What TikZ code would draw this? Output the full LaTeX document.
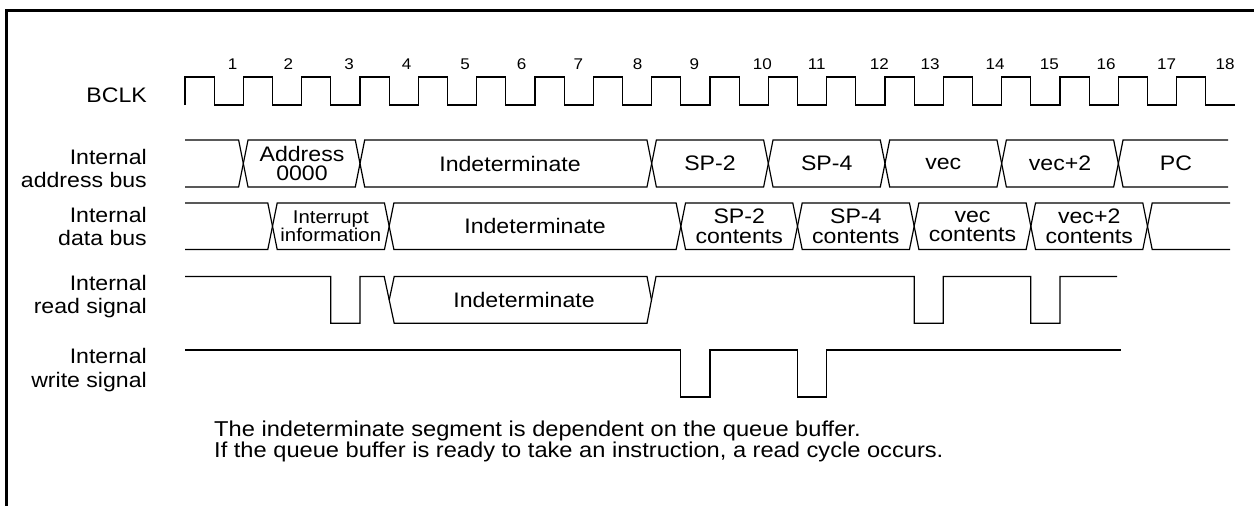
\documentclass[tikz,border=0pt]{standalone}
\usepackage{fontspec}
\setmainfont[FakeStretch=1.1]{Liberation Sans}
\begin{document}
\begin{tikzpicture}[x=1pt,y=-1pt,
  sig/.style={line width=1.2pt, line join=miter, black},
  lbl/.style={anchor=east, align=right, inner sep=0pt, font=\fontsize{21}{23.3}\selectfont},
  boxtxt/.style={align=center, inner sep=0pt, font=\fontsize{21}{19.5}\selectfont},
  smalltxt/.style={align=center, inner sep=0pt, font=\fontsize{18.5}{17.5}\selectfont},
  num/.style={inner sep=0pt, font=\fontsize{15.5}{15.5}\selectfont},
  note/.style={anchor=base west, inner sep=0pt, font=\fontsize{21.5}{19}\selectfont}]
\def\hp{29.16667}
\useasboundingbox (0,0) rectangle (1254,506);
% frame
\draw[line width=2.7pt] (6.7,506) -- (6.7,10.3) -- (1254,10.3);

% labels
\node[lbl] (lclk) at (147,95) {BCLK};
\node[lbl] (ladr) at (147,168.3) {Internal\\address bus};
\node[lbl] (ldat) at (147,226.7) {Internal\\data bus};
\node[lbl] (lrd) at (147,296.7) {Internal\\read signal};
\node[lbl] (lwr) at (147,370) {Internal\\write signal};

% clock numbers
\foreach \n/\x in {1/232.7,2/288.3,3/349,4/406.7,5/465,6/521.7,7/578.3,8/637.7,9/694.3,10/762.3,11/816.7,12/879.3,13/930,14/995,15/1049.3,16/1106,17/1166.7,18/1225}
  \node[num] (n\n) at (\x,64.5) {\n};

% clock
\draw[sig] (185,105) foreach \k in {0,...,17} {
  -- ({185+2*\k*\hp},77) -- ({185+(2*\k+1)*\hp},77) -- ({185+(2*\k+1)*\hp},105) -- ({185+(2*\k+2)*\hp},105) };

% address bus
\def\w{4.7}
\draw[sig] (185,140) -- ({243.33-\w},140) -- (243.33,163.5) -- ({243.33-\w},187) -- (185,187);
\foreach \a/\b in {243.33/360,360/651.67,651.67/768.33,768.33/885,885/1001.67,1001.67/1118.33}
  \draw[sig] (\a,163.5) -- ({\a+\w},140) -- ({\b-\w},140) -- (\b,163.5) -- ({\b-\w},187) -- ({\a+\w},187) -- cycle;
\draw[sig] (1228,140) -- ({1118.33+\w},140) -- (1118.33,163.5) -- ({1118.33+\w},187) -- (1228,187);
\node[boxtxt] (a1) at (302,163.5) {Address\\0000};
\node[boxtxt] (a2) at (510,163.5) {Indeterminate};
\node[boxtxt] (a3) at (710,163.5) {SP-2};
\node[boxtxt] (a4) at (826.7,163.5) {SP-4};
\node[boxtxt] (a5) at (943.3,163.5) {vec};
\node[boxtxt] (a6) at (1060,163.5) {vec+2};
\node[boxtxt] (a7) at (1176,163.5) {PC};

% data bus
\draw[sig] (185,203) -- ({272.5-\w},203) -- (272.5,226.25) -- ({272.5-\w},249.5) -- (185,249.5);
\foreach \a/\b in {272.5/389.17,389.17/680.83,680.83/797.5,797.5/914.17,914.17/1030.83,1030.83/1147.5}
  \draw[sig] (\a,226.25) -- ({\a+\w},203) -- ({\b-\w},203) -- (\b,226.25) -- ({\b-\w},249.5) -- ({\a+\w},249.5) -- cycle;
\draw[sig] (1230,203) -- ({1147.5+\w},203) -- (1147.5,226.25) -- ({1147.5+\w},249.5) -- (1230,249.5);
\node[smalltxt] (d1) at (330.8,226.25) {Interrupt\\information};
\node[boxtxt] (d2) at (535,226.25) {Indeterminate};
\node[boxtxt] (d3) at (739.2,226.25) {SP-2\\contents};
\node[boxtxt] (d4) at (855.8,226.25) {SP-4\\contents};
\node[boxtxt] (d5) at (972.5,226.25) {vec\\contents};
\node[boxtxt] (d6) at (1089.2,226.25) {vec+2\\contents};

% read signal
\draw[sig] (185,276.5) -- (330.83,276.5) -- (330.83,323.3) -- (360,323.3) -- (360,276.5) -- (384.2,276.5)
  -- (394.2,323.3) -- (647,323.3) -- (656,276.5) -- (914.17,276.5) -- (914.17,323.3) -- (943.33,323.3)
  -- (943.33,276.5) -- (1030.83,276.5) -- (1030.83,323.3) -- (1060,323.3) -- (1060,276.5) -- (1117,276.5);
\draw[sig] (389.2,299.9) -- (394.2,276.5) -- (647,276.5) -- (651.5,299.9);
\node[boxtxt] (r1) at (524,299.9) {Indeterminate};

% write signal
\draw[sig] (185,350) -- (680.83,350) -- (680.83,397) -- (710,397) -- (710,350) -- (797.5,350)
  -- (797.5,397) -- (826.67,397) -- (826.67,350) -- (1121,350);

% notes
\node[note] (note1) at (214,436) {The indeterminate segment is dependent on the queue buffer.};
\node[note] (note2) at (214,457.5) {If the queue buffer is ready to take an instruction, a read cycle occurs.};
\end{tikzpicture}
\end{document}
